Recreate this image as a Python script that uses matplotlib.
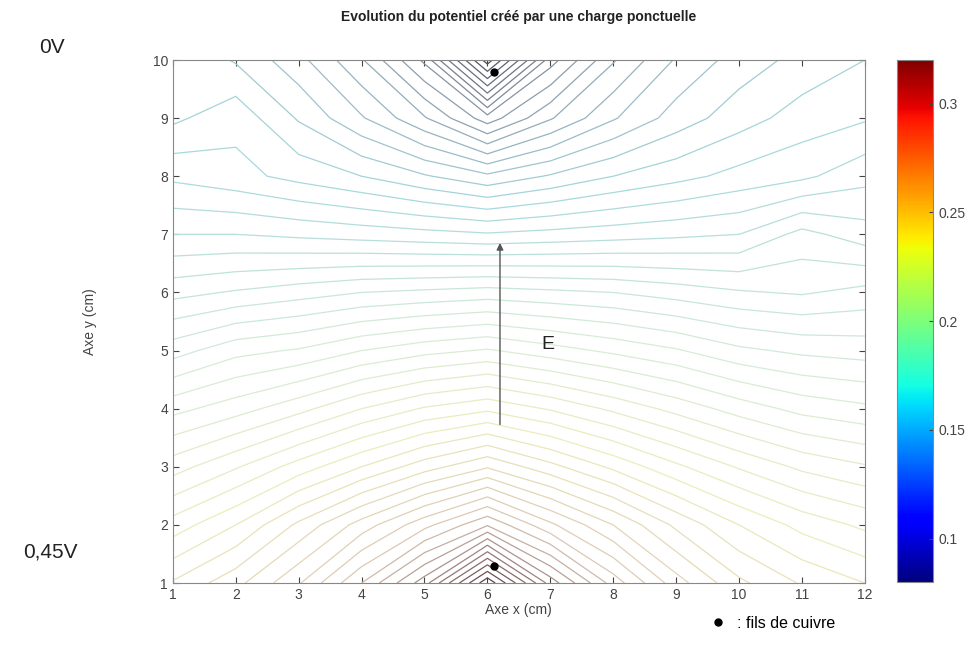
import numpy as np
import matplotlib.pyplot as plt
from matplotlib.colors import LinearSegmentedColormap, Normalize
from matplotlib.cm import ScalarMappable

plt.rcParams['font.family'] = ['Liberation Sans', 'DejaVu Sans']

# grille de mesure (cm)
x_cm = [1, 2, 3, 4, 5, 6, 7, 8, 9, 10, 11, 12]
y_cm = [1, 2, 3, 4, 5, 6, 7, 8, 9, 10]

# potentiel mesure (V), une ligne par valeur de y (y = 1 ... 10)
V_y1 = [0.245, 0.252, 0.262, 0.276, 0.292, 0.320, 0.292, 0.274, 0.260, 0.250, 0.244, 0.240]
V_y2 = [0.233, 0.240, 0.250, 0.260, 0.270, 0.280, 0.268, 0.258, 0.248, 0.240, 0.234, 0.230]
V_y3 = [0.220, 0.226, 0.233, 0.240, 0.247, 0.253, 0.246, 0.239, 0.232, 0.226, 0.221, 0.218]
V_y4 = [0.207, 0.211, 0.216, 0.222, 0.227, 0.230, 0.226, 0.221, 0.216, 0.211, 0.207, 0.205]
V_y5 = [0.193, 0.198, 0.200, 0.204, 0.207, 0.209, 0.206, 0.203, 0.200, 0.196, 0.194, 0.193]
V_y6 = [0.180, 0.182, 0.184, 0.186, 0.187, 0.188, 0.187, 0.186, 0.184, 0.182, 0.181, 0.183]
V_y7 = [0.168, 0.168, 0.167, 0.166, 0.165, 0.164, 0.165, 0.166, 0.167, 0.168, 0.174, 0.170]
V_y8 = [0.158, 0.156, 0.153, 0.150, 0.146, 0.142, 0.146, 0.150, 0.153, 0.156, 0.158, 0.162]
V_y9 = [0.149, 0.153, 0.145, 0.137, 0.128, 0.116, 0.127, 0.136, 0.143, 0.148, 0.152, 0.154]
V_y10 = [0.150, 0.145, 0.138, 0.128, 0.113, 0.080, 0.112, 0.127, 0.137, 0.143, 0.147, 0.150]

# fils de cuivre
wire_x = [6.1, 6.1]
wire_y = [9.8, 1.3]

V = np.array([V_y1, V_y2, V_y3, V_y4, V_y5, V_y6, V_y7, V_y8, V_y9, V_y10])
X, Y = np.meshgrid(x_cm, y_cm)

vmin, vmax = 0.08, 0.32
levels = np.arange(0.0825, 0.32, 0.0045)

# couleurs des lignes : jet "delave" comme sur la capture
line_cmap = LinearSegmentedColormap.from_list('faded_jet', [
    (0.00, '#4a4a5a'),
    (0.15, '#8a98a8'),
    (0.30, '#a6d8dc'),
    (0.50, '#d6ecd8'),
    (0.65, '#ececbc'),
    (0.80, '#dcc8b4'),
    (1.00, '#5a3a44'),
])

fig = plt.figure(figsize=(9.71, 6.46), dpi=100)
ax = fig.add_axes([0.178, 0.0975, 0.7127, 0.8096])

ax.contour(X, Y, V, levels=levels, cmap=line_cmap, vmin=vmin, vmax=vmax,
           linewidths=0.9)
ax.plot(wire_x, wire_y, 'o', color='black', markersize=5, label=': fils de cuivre')

ax.annotate('', xy=(6.2, 6.9), xytext=(6.2, 3.68),
            arrowprops=dict(arrowstyle='-|>', color='#555555', lw=1.0,
                            mutation_scale=10))
ax.text(6.96, 5.1, 'E', fontsize=14, ha='center', va='center', color='#222222')

ax.set_xlim(1, 12)
ax.set_ylim(1, 10)
ax.set_xticks(x_cm)
ax.set_yticks(y_cm)
ax.tick_params(direction='in', top=True, right=True, length=4, labelsize=10,
               colors='#444444', labelcolor='#444444')
for sp in ax.spines.values():
    sp.set_color('#888888')
ax.set_xlabel('Axe x (cm)', fontsize=10, color='#444444', labelpad=1)
ax.set_ylabel('Axe y (cm)', fontsize=10, color='#444444', labelpad=40)
ax.set_title('Evolution du potentiel créé par une charge ponctuelle',
             fontsize=10, fontweight='bold', color='#222222', pad=28)

ax.legend(loc='upper left', bbox_to_anchor=(0.755, -0.05), frameon=False,
          handletextpad=0.2, fontsize=11.5, markerscale=1.0, borderaxespad=0)

cax = fig.add_axes([0.9238, 0.099, 0.0371, 0.808])
cb = fig.colorbar(ScalarMappable(norm=Normalize(vmin, vmax), cmap='jet'), cax=cax)
cb.set_ticks([0.1, 0.15, 0.2, 0.25, 0.3])
cb.set_ticklabels(['0.1', '0.15', '0.2', '0.25', '0.3'])
cb.ax.tick_params(direction='in', length=3, labelsize=10, colors='#444444',
                  labelcolor='#444444', pad=4)
cb.outline.set_edgecolor('#888888')

fig.text(0.054, 0.927, '0V', fontsize=15, ha='center', va='center', color='#222222')
fig.text(0.052, 0.145, '0,45V', fontsize=15, ha='center', va='center', color='#222222')

plt.savefig('out.png', dpi=100)
